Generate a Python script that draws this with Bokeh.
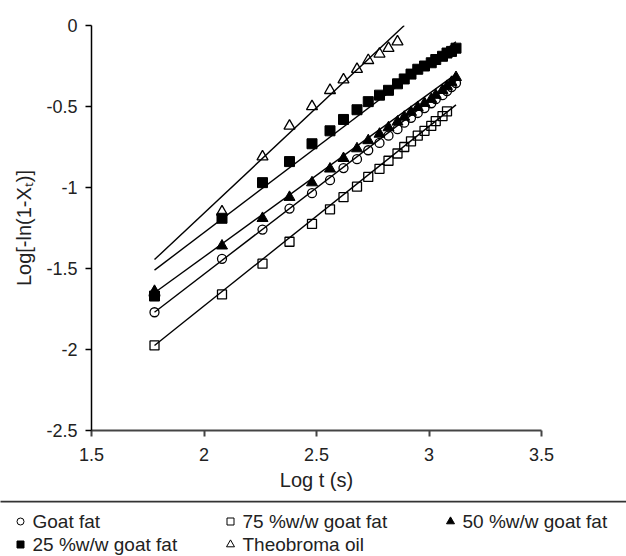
from bokeh.plotting import figure
from bokeh.models import Range1d, ColumnDataSource
from bokeh.embed import file_html
from bokeh.resources import INLINE
from bokeh.core.properties import value

# ---- data ----
log_t = [1.78, 2.08, 2.26, 2.38, 2.48, 2.56, 2.62, 2.68, 2.73, 2.78, 2.82,
         2.86, 2.89, 2.92, 2.95, 2.98, 3.01, 3.03, 3.06, 3.08, 3.10, 3.12]

goat_fat = [-1.77, -1.44, -1.26, -1.13, -1.035, -0.955, -0.88, -0.825, -0.77, -0.725, -0.68,
            -0.64, -0.60, -0.57, -0.54, -0.51, -0.48, -0.455, -0.43, -0.405, -0.38, -0.355]
goat75 = [-1.975, -1.66, -1.47, -1.335, -1.225, -1.135, -1.06, -0.995, -0.935, -0.885, -0.835,
          -0.79, -0.75, -0.715, -0.68, -0.65, -0.62, -0.59, -0.56, -0.53]
goat50 = [-1.64, -1.36, -1.19, -1.06, -0.97, -0.885, -0.82, -0.76, -0.71, -0.67, -0.63,
          -0.595, -0.565, -0.535, -0.505, -0.48, -0.455, -0.43, -0.40, -0.375, -0.35, -0.32]
goat25 = [-1.67, -1.19, -0.97, -0.84, -0.73, -0.65, -0.58, -0.52, -0.47, -0.43, -0.40,
          -0.36, -0.33, -0.30, -0.27, -0.25, -0.23, -0.21, -0.19, -0.17, -0.16, -0.14]
theobroma = [-1.65, -1.15, -0.81, -0.62, -0.50, -0.40, -0.335, -0.27, -0.215, -0.175, -0.14, -0.10]

# fitted straight lines (end points)
goat_fat_fit_x, goat_fat_fit_y = [1.78, 3.12], [-1.77, -0.34]
goat75_fit_x, goat75_fit_y = [1.78, 3.12], [-1.975, -0.49]
goat50_fit_x, goat50_fit_y = [1.78, 3.12], [-1.65, -0.30]
goat25_fit_x, goat25_fit_y = [1.78, 3.12], [-1.51, -0.10]
theobroma_fit_x, theobroma_fit_y = [1.78, 2.89], [-1.445, 0.0]

x_ticks = [1.5, 2, 2.5, 3, 3.5]
y_ticks = [-2.5, -2, -1.5, -1, -0.5, 0]

legend_labels = ["Goat fat", "75 %w/w goat fat", "50 %w/w goat fat",
                 "25 %w/w goat fat", "Theobroma oil"]
legend_markers = ["circle", "square", "triangle", "square", "triangle"]
legend_fills = [None, None, "black", "black", None]

FONT = "Liberation Sans"
W = 626
MAIN_H, LEG_H = 500, 56

p = figure(width=W, height=MAIN_H, x_range=Range1d(1.5, 3.5), y_range=Range1d(-2.5, 0),
           toolbar_location=None, output_backend="svg",
           min_border_left=91, min_border_right=85, min_border_top=25, min_border_bottom=70)
p.outline_line_color = None
p.grid.visible = False

# fitted lines
for fx, fy in [(goat_fat_fit_x, goat_fat_fit_y), (goat75_fit_x, goat75_fit_y),
               (goat50_fit_x, goat50_fit_y), (goat25_fit_x, goat25_fit_y),
               (theobroma_fit_x, theobroma_fit_y)]:
    p.line(fx, fy, line_color="black", line_width=1.4)

# markers
p.scatter(log_t[:len(goat_fat)], goat_fat, marker="circle", size=9,
          fill_color=None, line_color="black", line_width=1.3)
p.scatter(log_t[:len(goat75)], goat75, marker="square", size=9,
          fill_color=None, line_color="black", line_width=1.3)
p.scatter(log_t[:len(goat25)], goat25, marker="square", size=10,
          fill_color="black", line_color="black", line_width=1)
p.scatter(log_t[:len(goat50)], goat50, marker="triangle", size=11,
          fill_color="black", line_color="black", line_width=1)
p.scatter(log_t[:len(theobroma)], theobroma, marker="triangle", size=11,
          fill_color=None, line_color="black", line_width=1.3)

# axes
p.xaxis.ticker = x_ticks
p.yaxis.ticker = y_ticks
p.xaxis.major_label_overrides = {1.5: "1.5", 2: "2", 2.5: "2.5", 3: "3", 3.5: "3.5"}
p.yaxis.major_label_overrides = {-2.5: "-2.5", -2: "-2", -1.5: "-1.5", -1: "-1", -0.5: "-0.5", 0: "0"}
for ax in (p.xaxis[0], p.yaxis[0]):
    ax.minor_tick_line_color = None
    ax.major_tick_in = 0
    ax.major_tick_out = 6
    ax.major_label_text_font = FONT
    ax.major_label_text_font_size = "18px"
    ax.major_label_text_color = "#222222"
    ax.axis_label_text_font = FONT
    ax.axis_label_text_font_size = "20px"
    ax.axis_label_text_font_style = "normal"
    ax.axis_label_text_color = "#222222"
p.xaxis.axis_line_color = "#444444"
p.xaxis.axis_line_width = 2
p.xaxis.major_tick_line_color = "#444444"
p.xaxis.major_tick_line_width = 2
p.yaxis.axis_line_color = "black"
p.yaxis.axis_line_width = 1.5
p.yaxis.major_tick_line_color = "black"
p.yaxis.major_tick_line_width = 1.5
p.xaxis.major_label_standoff = 11
p.yaxis.major_label_standoff = 8
p.xaxis.axis_label = "Log t (s)"
p.yaxis.axis_label = "Log[-ln(1-X\u209c)]"
p.xaxis.axis_label_standoff = 5
p.yaxis.axis_label_standoff = 8

# ---- legend strip (pixel coordinates of the strip) ----
lg = figure(width=W, height=LEG_H, x_range=Range1d(0, W), y_range=Range1d(LEG_H, 0),
            toolbar_location=None, output_backend="svg", x_axis_type=None, y_axis_type=None,
            min_border=0)
lg.outline_line_color = None
lg.grid.visible = False
lg.segment(x0=[-5], x1=[W + 5], y0=[1], y1=[1], line_color="#333333", line_width=2)

row1, row2 = 21, 44
sym_x = [20, 230, 450, 20, 230]
sym_y = [row1, row1, row1, row2, row2]
for sx, sy, mk, fc in zip(sym_x, sym_y, legend_markers, legend_fills):
    lg.scatter([sx], [sy], marker=mk, size=8 if mk == "triangle" else 7,
               fill_color=fc, line_color="black", line_width=1)
src = ColumnDataSource(dict(x=[s + 12 for s in sym_x], y=sym_y, t=legend_labels))
lg.text(x="x", y="y", text="t", source=src, text_font=value(FONT), text_font_size="19px",
        text_baseline="middle", text_align="left", text_color="#222222")

open("out.html", "w").write(file_html([p, lg], INLINE))
